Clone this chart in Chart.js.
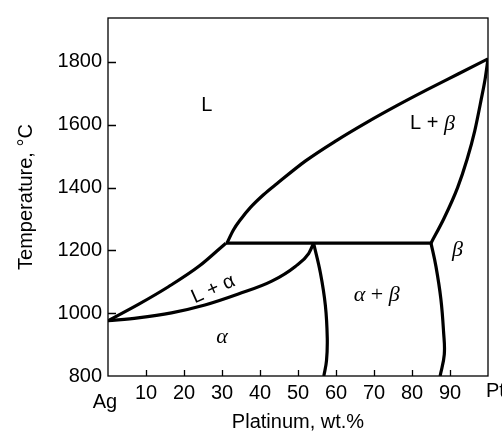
<!DOCTYPE html>
<html>
<head>
<meta charset="utf-8">
<script src="https://cdn.jsdelivr.net/npm/chart.js@4.4.1/dist/chart.umd.min.js"></script>
<style>
  html, body { margin: 0; padding: 0; background: #fff; }
  #wrap { width: 502px; height: 435px; }
</style>
</head>
<body>
<div id="wrap"><canvas id="phaseChart"></canvas></div>
<script>
// Ag-Pt phase diagram (x = wt.% Pt, T = °C)
var xTicks = [0, 10, 20, 30, 40, 50, 60, 70, 80, 90, 100];
var xTickLabels = ['Ag', '10', '20', '30', '40', '50', '60', '70', '80', '90', 'Pt'];
var yTicks = [800, 1000, 1200, 1400, 1600, 1800];

var liqAlphaX = [0, 8, 16, 24, 31.0];
var liqAlphaT = [976, 1028, 1085, 1150, 1223];

var liqBetaX = [31.3, 33, 35, 37.5, 41, 44.5, 52, 60, 68, 76, 84, 92, 100];
var liqBetaT = [1223, 1265, 1300, 1337, 1378, 1413, 1485, 1549, 1607, 1661, 1712, 1761, 1810];

var solAlphaX = [0, 7.9, 16.7, 25.5, 34.3, 43.1, 49.3, 52.8, 54.1];
var solAlphaT = [976, 985, 1001, 1026, 1061, 1102, 1149, 1190, 1223];

var solBetaX = [85.0, 88.5, 92, 94.5, 96.5, 98.2, 99.3, 100];
var solBetaT = [1223, 1304, 1400, 1490, 1580, 1680, 1750, 1810];

var solvAlphaX = [54.1, 55.9, 57.2, 57.7, 57.5, 56.8];
var solvAlphaT = [1223, 1128, 1025, 921, 849, 800];

var solvBetaX = [85.0, 86.3, 87.6, 88.3, 88.5, 87.4];
var solvBetaT = [1223, 1149, 1045, 942, 869, 800];

var peritecticX = [31.0, 85.0];
var peritecticT = [1223, 1223];

var SANS = '"Liberation Sans", Arial, Helvetica, sans-serif';
var SERIF = '"Liberation Serif", "Times New Roman", serif';

function pts(xs, ts) {
    return xs.map(function (x, i) { return { x: x, y: ts[i] }; });
}

// monotone = smooth along x; otherwise a plain spline (for the solvus lines)
function curve(xs, ts, monotone) {
    return {
        data: pts(xs, ts),
        showLine: true,
        borderColor: '#000',
        borderWidth: 3.2,
        pointRadius: 0,
        tension: 0.4,
        cubicInterpolationMode: monotone ? 'monotone' : 'default',
        fill: false
    };
}

// region labels: [x, T, rotation (deg), segments]
var regionLabels = [
    [26, 1660, 0, [['L', '20px ' + SANS]]],
    [85.4, 1603, 0, [['L + ', '20px ' + SANS], ['\u03B2', 'italic 22px ' + SERIF]]],
    [27.7, 1076, -24, [['L + \u03B1', '20px ' + SANS]]],
    [30, 923, 0, [['\u03B1', 'italic 22px ' + SERIF]]],
    [70.7, 1056, 0, [['\u03B1', 'italic 22px ' + SERIF], [' + ', '22px ' + SERIF], ['\u03B2', 'italic 22px ' + SERIF]]],
    [92, 1200, 0, [['\u03B2', 'italic 22px ' + SERIF]]]
];

var frameAndLabels = {
    id: 'frameAndLabels',
    afterDraw: function (chart) {
        var ctx = chart.ctx, a = chart.chartArea;
        var xs = chart.scales.x, ys = chart.scales.y;
        ctx.save();
        ctx.strokeStyle = '#000';
        ctx.lineWidth = 1.3;
        ctx.strokeRect(a.left, a.top, a.right - a.left, a.bottom - a.top);

        // inward tick marks
        ctx.beginPath();
        xTicks.forEach(function (v) {
            if (v === 0 || v === 100) return;
            var px = Math.round(xs.getPixelForValue(v)) + 0.5;
            ctx.moveTo(px, a.bottom);
            ctx.lineTo(px, a.bottom - 6);
        });
        yTicks.forEach(function (v) {
            if (v === 800) return;
            var py = Math.round(ys.getPixelForValue(v)) + 0.5;
            ctx.moveTo(a.left, py);
            ctx.lineTo(a.left + 8, py);
        });
        ctx.stroke();

        // end labels of the composition axis
        ctx.fillStyle = '#000';
        ctx.font = '20px ' + SANS;
        ctx.textBaseline = 'middle';
        ctx.textAlign = 'center';
        ctx.fillText(xTickLabels[0], xs.getPixelForValue(0) - 3, a.bottom + 26);
        ctx.textAlign = 'left';
        ctx.fillText(xTickLabels[10], xs.getPixelForValue(100) - 2, a.bottom + 15);

        // phase region labels
        regionLabels.forEach(function (lb) {
            var cx = xs.getPixelForValue(lb[0]);
            var cy = ys.getPixelForValue(lb[1]);
            var segs = lb[3];
            var total = 0;
            segs.forEach(function (s) { ctx.font = s[1]; total += ctx.measureText(s[0]).width; });
            ctx.save();
            ctx.translate(cx, cy);
            ctx.rotate(lb[2] * Math.PI / 180);
            ctx.textAlign = 'left';
            ctx.textBaseline = 'middle';
            var x = -total / 2;
            segs.forEach(function (s) {
                ctx.font = s[1];
                ctx.fillText(s[0], x, 0);
                x += ctx.measureText(s[0]).width;
            });
            ctx.restore();
        });
        ctx.restore();
    }
};

var myChart = new Chart(document.getElementById('phaseChart').getContext('2d'), {
    type: 'scatter',
    data: {
        datasets: [
            curve(liqAlphaX, liqAlphaT, true),
            curve(liqBetaX, liqBetaT, true),
            curve(solAlphaX, solAlphaT, true),
            curve(solBetaX, solBetaT, true),
            curve(solvAlphaX, solvAlphaT, false),
            curve(solvBetaX, solvBetaT, false),
            curve(peritecticX, peritecticT, false)
        ]
    },
    options: {
        responsive: true,
        maintainAspectRatio: false,
        animation: false,
        layout: { padding: { left: 0, right: 14, top: 8, bottom: 0 } },
        plugins: { legend: { display: false }, tooltip: { enabled: false } },
        scales: {
            x: {
                type: 'linear',
                min: 0,
                max: 100,
                afterBuildTicks: function (s) {
                    s.ticks = xTicks.map(function (v) { return { value: v }; });
                },
                afterFit: function (s) { s.height = 59; },
                grid: { display: false, drawTicks: false },
                border: { display: false },
                ticks: {
                    autoSkip: false,
                    maxRotation: 0,
                    padding: 5,
                    color: '#000',
                    font: { family: SANS, size: 20 },
                    callback: function (v) {
                        if (v === 0 || v === 100) return '';
                        return xTickLabels[xTicks.indexOf(v)];
                    }
                },
                title: {
                    display: true,
                    text: 'Platinum, wt.%',
                    color: '#000',
                    font: { family: SANS, size: 20 },
                    padding: { top: 0, bottom: 1 }
                }
            },
            y: {
                type: 'linear',
                min: 800,
                max: 1940,
                afterBuildTicks: function (s) {
                    s.ticks = yTicks.map(function (v) { return { value: v }; });
                },
                afterFit: function (s) { s.width = 108; },
                grid: { display: false, drawTicks: false },
                border: { display: false },
                ticks: {
                    padding: 6,
                    color: '#000',
                    font: { family: SANS, size: 20 },
                    callback: function (v) { return String(v); }
                },
                title: {
                    display: true,
                    text: 'Temperature, \u00B0C',
                    color: '#000',
                    font: { family: SANS, size: 20 },
                    padding: { top: 14, bottom: 0 }
                }
            }
        }
    },
    plugins: [frameAndLabels]
});
</script>
</body>
</html>
